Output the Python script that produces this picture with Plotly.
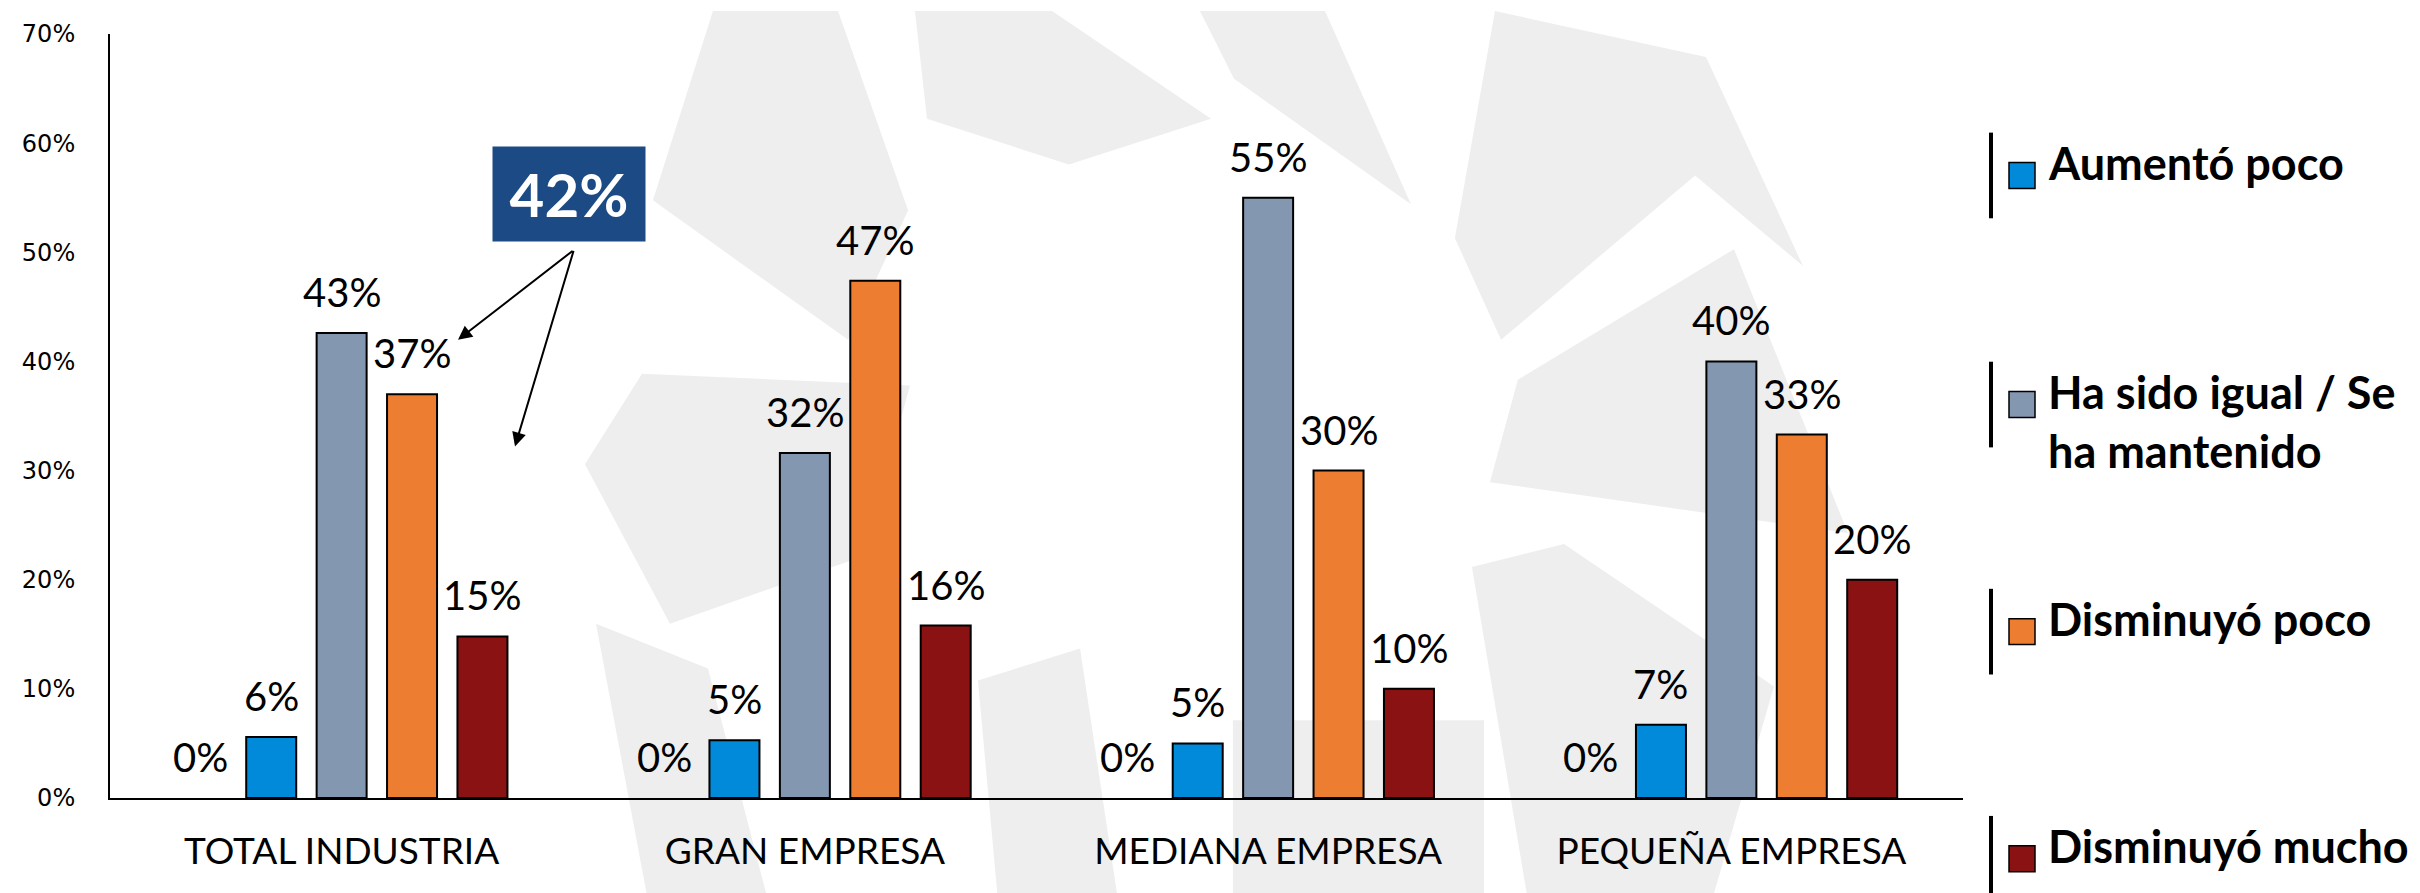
import plotly.graph_objects as go

# data
categories = ['TOTAL INDUSTRIA', 'GRAN EMPRESA', 'MEDIANA EMPRESA', 'PEQUEÑA EMPRESA']
series_names = ['Aumentó mucho', 'Aumentó poco', 'Ha sido igual / Se<br>ha mantenido',
                'Disminuyó poco', 'Disminuyó mucho']
aumento_mucho = [0.0, 0.0, 0.0, 0.0]
aumento_poco = [0.056, 0.053, 0.050, 0.067]
igual = [0.426, 0.316, 0.550, 0.400]
disminuyo_poco = [0.370, 0.474, 0.300, 0.333]
disminuyo_mucho = [0.148, 0.158, 0.100, 0.200]
y_ticks = [0, 0.1, 0.2, 0.3, 0.4, 0.5, 0.6, 0.7]
callout_text = '42%'

values = [aumento_mucho, aumento_poco, igual, disminuyo_poco, disminuyo_mucho]
colors = ['rgba(0,0,0,0)', '#0189DA', '#8497B0', '#ED7D31', '#8B1212']
in_legend = [False, True, True, True, True]

W, H = 2420, 893
L, R, T, B = 102, 465, 23, 103
PW, PH = W - L - R, H - T - B
BARGAP = 0.24


def px_x(px):
    return (px - L) / PW


def px_y(py):
    return (H - B - py) / PH


fig = go.Figure()

for name, vals, col in zip(series_names, values, colors):
    visible_line = col != 'rgba(0,0,0,0)'
    fig.add_trace(go.Bar(
        x=categories, y=vals, name=name,
        marker=dict(color=col,
                    line=dict(color='black' if visible_line else 'rgba(0,0,0,0)', width=2)),
        cliponaxis=False,
        showlegend=False,
    ))

# value labels above each bar
n_series = len(values)
slot = PW / len(categories) * (1 - BARGAP) / n_series
for i, vals in enumerate(values):
    for cat, v in zip(categories, vals):
        fig.add_annotation(x=cat, y=v, text=f'{v:.0%}', showarrow=False,
                           xanchor='center', yanchor='bottom',
                           xshift=(i - (n_series - 1) / 2) * slot, yshift=15,
                           font=dict(family='Lato', size=40, color='black'))

# faint watermark logo behind the chart
watermark = [
    [(705, 0), (830, 0), (900, 200), (840, 330), (645, 190)],
    [(907, 0), (1044, 0), (1203, 108), (1061, 154), (919, 108)],
    [(1192, 0), (1317, 0), (1403, 194), (1226, 68)],
    [(1487, 0), (1698, 46), (1795, 256), (1687, 165), (1493, 330), (1447, 228)],
    [(1510, 370), (1726, 239), (1840, 524), (1482, 473)],
    [(577, 455), (634, 364), (902, 376), (856, 547), (662, 615)],
    [(1464, 558), (1556, 535), (1766, 678), (1704, 893), (1520, 893)],
    [(1225, 712), (1476, 712), (1476, 893), (1225, 893)],
    [(588, 615), (700, 660), (760, 893), (640, 893)],
    [(970, 672), (1072, 640), (1110, 893), (990, 893)],
]
for poly in watermark:
    path = 'M ' + ' L '.join(f'{px_x(a):.4f},{px_y(b):.4f}' for a, b in poly) + ' Z'
    fig.add_shape(type='path', path=path, xref='paper', yref='paper',
                  fillcolor='#EEEEEE', line=dict(width=0), layer='below')

# custom legend
row_y = [165, 395, 623, 851]
legend_entries = [(n, c) for n, c, s in zip(series_names, colors, in_legend) if s]
for (name, col), ry in zip(legend_entries, row_y):
    fig.add_shape(type='line', xref='paper', yref='paper',
                  x0=px_x(1983), x1=px_x(1983), y0=px_y(ry - 43), y1=px_y(ry + 43),
                  line=dict(color='black', width=4))
    fig.add_shape(type='rect', xref='paper', yref='paper',
                  x0=px_x(2001), x1=px_x(2027), y0=px_y(ry - 13), y1=px_y(ry + 13),
                  fillcolor=col, line=dict(color='black', width=1.5))
    fig.add_annotation(xref='paper', yref='paper', x=px_x(2038), y=px_y(ry - 42),
                       xanchor='left', yanchor='top', align='left', showarrow=False,
                       text=f'<b>{name}</b>',
                       font=dict(family='Lato', size=45, color='black'))

# callout box and arrows
fig.add_annotation(xref='paper', yref='paper', x=px_x(561), y=px_y(184),
                   xanchor='center', yanchor='middle',
                   text=f'<b>{callout_text}</b>', showarrow=False,
                   font=dict(family='Lato', size=60, color='white'),
                   bgcolor='#1B4A84', width=144, height=86, borderpad=4)
for hx, hy in [(450, 330), (507, 437)]:
    fig.add_annotation(xref='paper', yref='paper', x=px_x(hx), y=px_y(hy),
                       ax=566 - hx, ay=240 - hy, text='', showarrow=True,
                       arrowhead=2, arrowsize=1.4, arrowwidth=2, arrowcolor='black')

fig.update_layout(
    width=W, height=H,
    barmode='group', bargap=BARGAP, bargroupgap=0.29,
    plot_bgcolor='rgba(0,0,0,0)', paper_bgcolor='white',
    margin=dict(l=L, r=R, t=T, b=B),
    showlegend=False,
)
fig.update_xaxes(
    showline=True, linecolor='black', linewidth=2, ticks='',
    tickfont=dict(family='Lato', size=37, color='black'),
    ticklabelstandoff=20,
)
fig.update_yaxes(
    range=[0, 0.7], tickvals=y_ticks, tickformat='.0%',
    showline=True, linecolor='black', linewidth=2, showgrid=False, zeroline=False,
    ticks='', tickfont=dict(family='DejaVu Sans', size=24, color='black'),
    ticklabelstandoff=28,
)

fig.write_html('out.html')
